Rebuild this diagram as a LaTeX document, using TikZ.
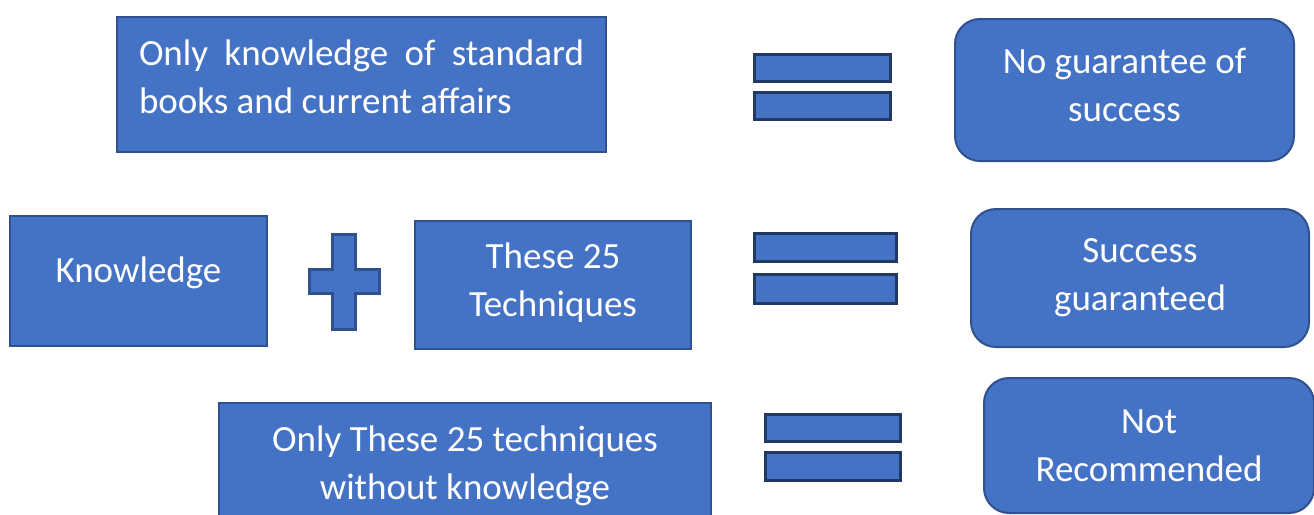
\documentclass[tikz,border=0pt]{standalone}
\usepackage{fontspec}
\setmainfont{Carlito}
\usetikzlibrary{positioning}

\definecolor{boxfill}{HTML}{4472C4}
\definecolor{boxline}{HTML}{2F528F}
\definecolor{barline}{HTML}{1F3864}

\tikzstyle{every node}=[rectangle, draw=boxline, fill=boxfill, line width=2pt, text=white, inner sep=0pt, anchor=north west, align=center, font=\fontsize{37}{48}\selectfont]
\tikzstyle{round box}=[rounded corners=25pt]
\tikzstyle{bar}=[draw=barline, line width=3pt]

\begin{document}
\begin{tikzpicture}[x=1pt,y=-1pt]
\useasboundingbox (0,0) rectangle (1314,514);

\node [minimum width=489pt, minimum height=135pt, text width=445pt, align=justify, text depth=64pt] (only) at (116,16) {Only knowledge of standard books and current affairs};
\node [round box, minimum width=339pt, minimum height=142pt, text depth=10pt] (noguar) at (954,18) {No guarantee of\\success};

\node [minimum width=257pt, minimum height=130pt, text depth=23pt] (know) at (9,215) {Knowledge};
\node [minimum width=276pt, minimum height=128pt, text depth=11pt] (tech) at (414,220) {These 25\\Techniques};
\node [round box, minimum width=338pt, minimum height=138pt] (succ) at (970,208) {Success\\guaranteed};

\node [minimum width=492pt, minimum height=125pt] (onlytech) at (218,402) {Only These 25 techniques\\without knowledge};
\node [round box, minimum width=330pt, minimum height=135pt] (notrec) at (983,377) {Not\\Recommended};

% equals signs
\node [bar, minimum width=136pt, minimum height=27pt] (eqa) at (753,53) {};
\node [bar, minimum width=136pt, minimum height=27pt, below=8pt of eqa.south west, anchor=north west] (eqb) {};
\node [bar, minimum width=142pt, minimum height=28pt] (eqc) at (753,232) {};
\node [bar, minimum width=142pt, minimum height=29pt, below=10pt of eqc.south west, anchor=north west] (eqd) {};
\node [bar, minimum width=135pt, minimum height=27pt] (eqe) at (764,413) {};
\node [bar, minimum width=135pt, minimum height=28pt, below=8pt of eqe.south west, anchor=north west] (eqf) {};

% plus sign
\draw [draw=boxline, fill=boxfill, line width=3pt]
	(332,234) -- (355,234) -- (355,269) -- (379,269) -- (379,293) -- (355,293)
	-- (355,329) -- (332,329) -- (332,293) -- (309,293) -- (309,269) -- (332,269) -- cycle;

\end{tikzpicture}
\end{document}
